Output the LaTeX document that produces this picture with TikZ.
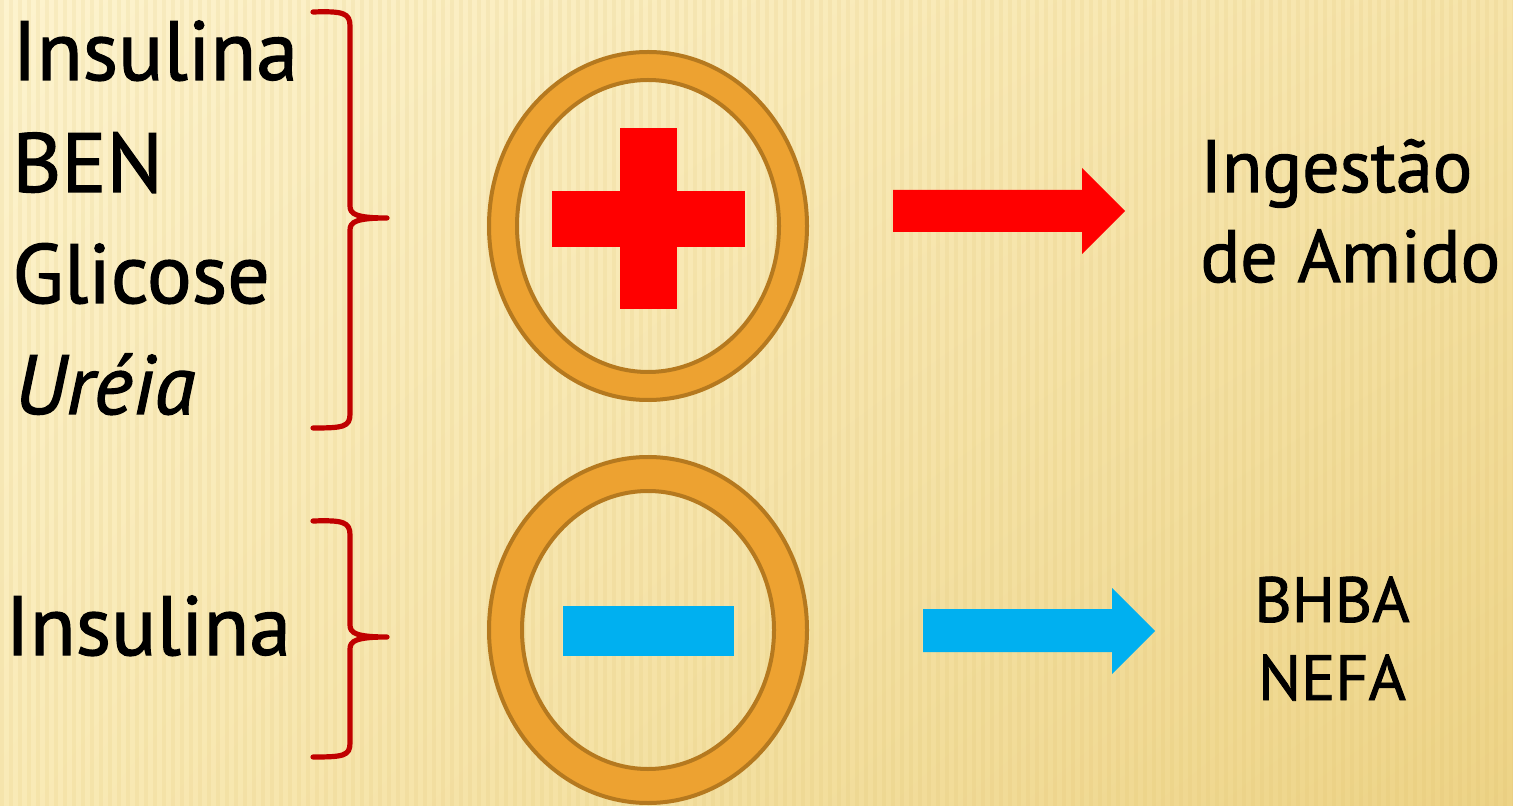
\documentclass[tikz,border=0pt]{standalone}
\usepackage{fontspec}
\setmainfont{PT Sans}[FakeBold=1.4]
\usetikzlibrary{positioning,shadings}

\definecolor{ringfill}{HTML}{EDA231}
\definecolor{ringline}{HTML}{B5791F}
\definecolor{bracered}{HTML}{C00000}
\definecolor{plusred}{HTML}{FF0000}
\definecolor{minusblue}{HTML}{00B0F0}
\definecolor{stripe}{HTML}{D9B960}
\definecolor{bgA}{HTML}{FDF3CE}
\definecolor{bgB}{HTML}{F6E4AA}
\definecolor{bgC}{HTML}{F9EAB6}
\definecolor{bgD}{HTML}{EDD386}

\tikzset{
  bigword/.style={anchor=base west, font=\fontsize{42}{50}\selectfont, inner sep=0pt},
  rightword/.style={anchor=base west, font=\fontsize{37}{44}\selectfont, inner sep=0pt},
  smallword/.style={anchor=base, font=\fontsize{32}{38}\selectfont, inner sep=0pt},
  brace/.style={draw=bracered, line width=2.6pt, line cap=round, line join=round},
  ring/.style={fill=ringfill, draw=ringline, line width=2pt, even odd rule},
}

\begin{document}
\begin{tikzpicture}[x=0.5pt, y=-0.5pt]
        \useasboundingbox (0,0) rectangle (1513,806);
        % background
        \shade[upper left=bgA, upper right=bgB, lower left=bgC, lower right=bgD]
              (0,0) rectangle (1513,806);
        \foreach \x in {0,9,...,1513}
          \fill[stripe, opacity=0.12] (\x,0) rectangle ++(4,806);

        % left words
        \node[bigword] (insA) at (12,80) {Insulina};
        \node[bigword] (ben) at (12,192) {BEN};
        \node[bigword] (glic) at (12,303) {Glicose};
        \node[bigword] (ureia) at (14,414) {\itshape Uréia};
        \node[bigword] (insB) at (5,655) {Insulina};

        % braces
        \draw[brace] (313,12) .. controls (343,11) and (350,13) .. (350,26) -- (350,206)
              .. controls (350,214) and (356,218) .. (387,218)
              .. controls (356,218) and (350,222) .. (350,230) -- (350,414)
              .. controls (350,427) and (343,428) .. (313,428);
        \draw[brace] (313,521) .. controls (343,520) and (350,522) .. (350,535) -- (350,625)
              .. controls (350,633) and (356,637) .. (387,637)
              .. controls (356,637) and (350,641) .. (350,649) -- (350,743)
              .. controls (350,756) and (343,757) .. (313,757);

        % rings with signs
        \path[ring] (648,226) ellipse (159 and 174) (648,226) ellipse (131 and 146);
        \fill[plusred] (552,191) rectangle (745,247);
        \fill[plusred] (620,128) rectangle (677,309);
        \path[ring] (648,630) ellipse (159 and 173) (648,630) ellipse (126 and 139);
        \fill[minusblue] (563,606) rectangle (734,656);

        % arrows
        \fill[plusred] (893,190) -- (1082,190) -- (1082,168) -- (1125,211) -- (1082,254) -- (1082,232) -- (893,232) -- cycle;
        \fill[minusblue] (923,609) -- (1112,609) -- (1112,588) -- (1155,631) -- (1112,674) -- (1112,652) -- (923,652) -- cycle;

        % right words
        \node[rightword] (ingest) at (1200,192) {Ingestão};
        \node[rightword] (amido) at (1200,282) {de Amido};
        \node[smallword] (bhba) at (1332,622) {BHBA};
        \node[smallword] (nefa) at (1332,700) {NEFA};
\end{tikzpicture}
\end{document}
